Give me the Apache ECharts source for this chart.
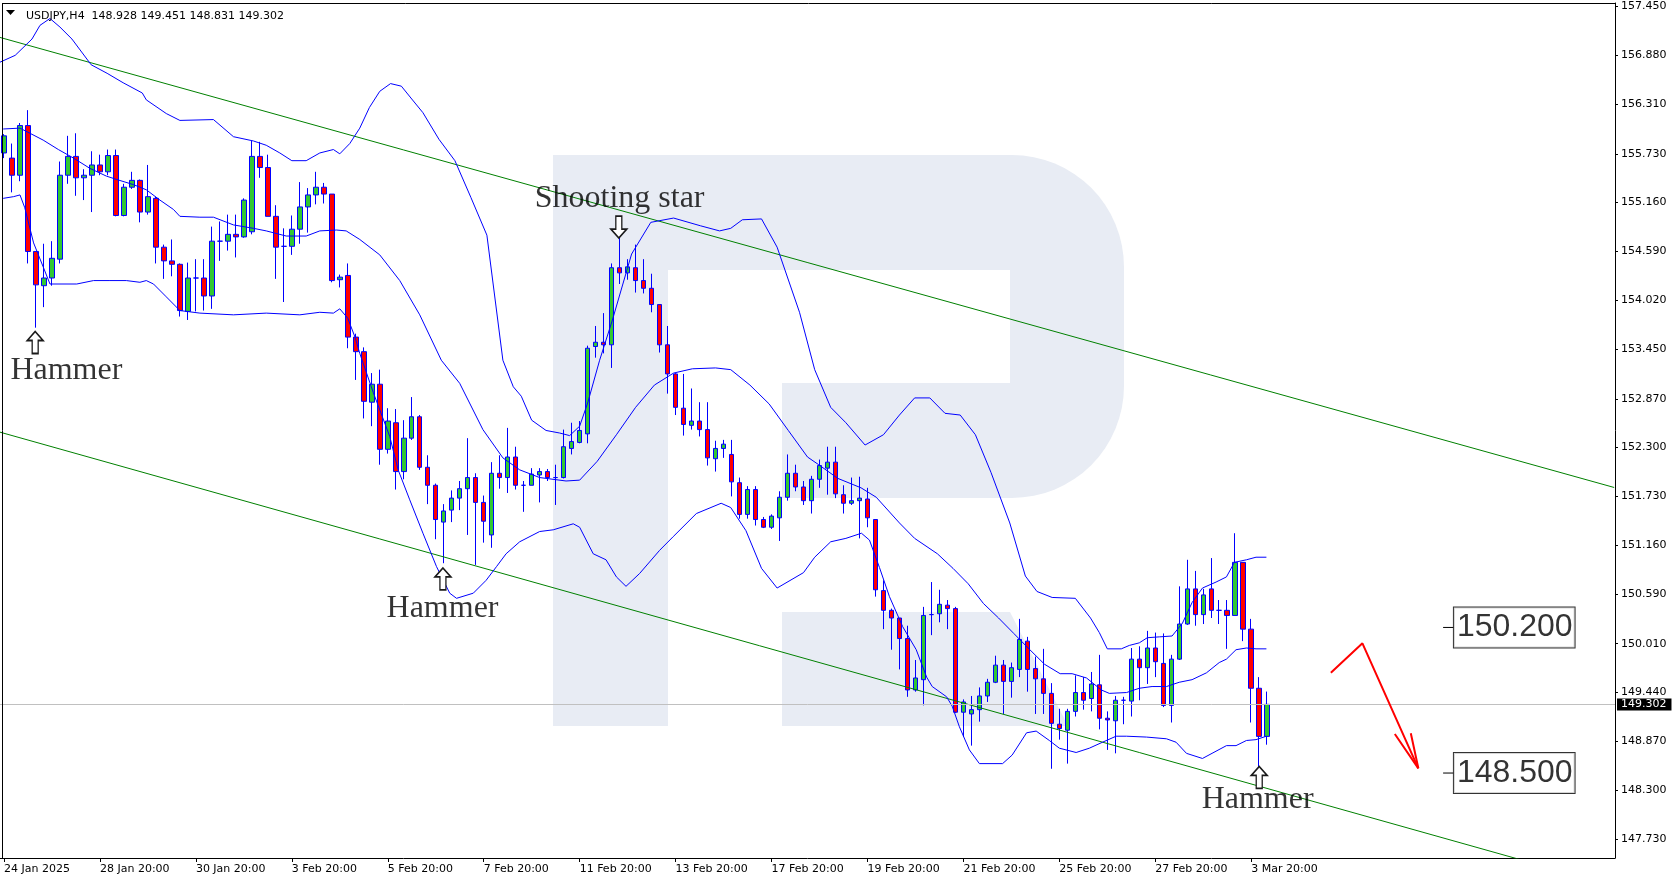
<!DOCTYPE html>
<html><head><meta charset="utf-8">
<script src="https://cdn.jsdelivr.net/npm/echarts@6/dist/echarts.min.js"></script>
<style>html,body{margin:0;padding:0;background:#fff;}#c{width:1679px;height:882px;}</style>
</head><body><div id="c"></div>
<script>
const SYMBOL = 'USDJPY,H4';
// candles: [open, high, low, close]
const OHLC = [
[155.74,155.96,155.68,155.94],[155.68,155.85,155.28,155.48],[155.48,156.09,155.41,156.06],[156.06,156.24,154.45,154.59],
[154.59,154.59,153.70,154.20],[154.19,154.68,153.94,154.28],[154.28,154.71,154.19,154.51],[154.50,155.64,154.45,155.48],
[155.48,155.94,155.38,155.70],[155.70,155.97,155.24,155.45],[155.45,155.55,155.19,155.48],[155.48,155.76,155.05,155.60],
[155.60,155.72,155.48,155.52],[155.52,155.78,155.48,155.71],[155.71,155.78,155.00,155.01],[155.01,155.38,155.00,155.34],
[155.34,155.52,155.32,155.42],[155.42,155.43,154.93,155.05],[155.05,155.60,155.02,155.23],[155.21,155.23,154.45,154.64],
[154.64,154.67,154.27,154.48],[154.48,154.73,154.30,154.44],[154.44,154.45,153.83,153.90],[153.89,154.46,153.79,154.28],
[154.28,154.50,153.89,154.28],[154.28,154.50,153.90,154.07],[154.07,154.88,153.92,154.71],[154.71,154.94,154.48,154.71],
[154.71,155.02,154.60,154.79],[154.79,155.02,154.52,154.76],[154.76,155.21,154.75,155.19],[154.82,155.88,154.79,155.70],
[155.70,155.87,155.45,155.57],[155.57,155.72,155.00,155.00],[155.00,155.13,154.27,154.64],[154.65,154.86,154.00,154.65],
[154.65,155.01,154.55,154.85],[154.85,155.40,154.68,155.11],[155.11,155.33,154.81,155.25],[155.25,155.52,155.14,155.34],
[155.34,155.39,155.15,155.26],[155.26,155.26,154.23,154.25],[154.26,154.32,154.17,154.29],[154.31,154.45,153.46,153.59],
[153.59,153.63,153.09,153.42],[153.42,153.47,152.64,152.84],[152.83,153.17,152.55,153.04],[153.04,153.21,152.10,152.28],
[152.28,152.76,152.23,152.61],[152.59,152.75,151.81,152.02],[152.02,152.62,151.93,152.41],[152.41,152.89,152.39,152.66],
[152.66,152.68,152.04,152.07],[152.07,152.21,151.64,151.86],[151.86,151.88,151.23,151.46],[151.43,151.64,150.95,151.56],
[151.57,151.80,151.43,151.71],[151.71,151.91,151.57,151.82],[151.82,152.41,151.28,151.95],[151.95,152.00,150.93,151.66],
[151.66,151.74,151.19,151.44],[151.28,152.13,151.13,152.00],[152.00,152.21,151.82,151.95],[151.95,152.53,151.77,152.19],
[152.19,152.31,151.81,151.86],[151.86,151.91,151.55,151.86],[151.86,152.06,151.86,151.99],[151.98,152.06,151.66,152.02],
[152.02,152.05,151.91,151.95],[151.95,152.10,151.63,151.95],[151.95,152.51,151.94,152.31],[152.29,152.59,152.22,152.37],
[152.36,152.61,152.35,152.50],[152.46,153.49,152.35,153.46],[153.48,153.72,153.35,153.53],[153.53,153.87,153.40,153.50],
[153.50,154.45,153.23,154.40],[154.40,154.75,154.21,154.34],[154.34,154.50,154.26,154.41],[154.40,154.67,154.11,154.25],
[154.25,154.50,154.10,154.16],[154.16,154.33,153.88,153.97],[153.97,153.97,153.41,153.50],[153.50,153.72,152.93,153.16],
[153.16,153.17,152.68,152.77],[152.76,153.16,152.44,152.57],[152.56,152.99,152.51,152.61],[152.61,152.83,152.43,152.51],
[152.51,152.83,152.09,152.18],[152.17,152.38,152.02,152.29],[152.29,152.39,152.18,152.34],[152.22,152.39,151.73,151.90],
[151.89,151.95,151.47,151.52],[151.52,151.85,151.47,151.81],[151.81,151.85,151.39,151.46],[151.46,151.49,151.36,151.37],
[151.37,151.52,151.35,151.50],[151.48,151.79,151.21,151.72],[151.72,152.22,151.68,152.00],[152.00,152.10,151.79,151.84],
[151.84,151.91,151.63,151.68],[151.68,151.97,151.53,151.93],[151.93,152.16,151.83,152.09],[152.06,152.31,151.75,152.13],
[152.13,152.31,151.71,151.76],[151.75,151.86,151.53,151.65],[151.65,151.95,151.63,151.68],[151.68,151.96,151.24,151.71],
[151.70,151.83,151.37,151.48],[151.46,151.46,150.56,150.64],[150.63,150.75,150.18,150.40],[150.40,150.42,149.94,150.31],
[150.31,150.31,149.71,150.07],[150.07,150.22,149.39,149.47],[149.47,149.82,149.45,149.61],[149.59,150.44,149.29,150.34],
[150.35,150.73,150.11,150.35],[150.36,150.64,150.26,150.47],[150.46,150.52,150.18,150.42],[150.42,150.44,149.20,149.21],
[149.21,149.36,148.92,149.33],[149.19,149.40,148.82,149.24],[149.24,149.50,149.10,149.40],[149.40,149.60,149.33,149.56],
[149.56,149.87,149.55,149.76],[149.76,149.82,149.19,149.57],[149.57,149.79,149.38,149.73],[149.71,150.30,149.62,150.06],
[150.04,150.09,149.45,149.71],[149.72,149.86,149.19,149.60],[149.60,149.95,149.19,149.43],[149.43,149.55,148.55,149.08],
[149.07,149.25,148.89,149.02],[149.00,149.25,148.61,149.22],[149.22,149.64,149.16,149.44],[149.44,149.62,149.24,149.35],
[149.37,149.68,149.22,149.54],[149.53,149.88,149.01,149.14],[149.14,149.22,148.77,149.12],[149.11,149.40,148.73,149.35],
[149.35,149.39,149.07,149.35],[149.34,149.96,149.16,149.83],[149.83,149.98,149.35,149.73],[149.73,150.16,149.54,149.96],
[149.96,150.14,149.62,149.80],[149.78,150.13,149.27,149.29],[149.29,149.88,149.09,149.83],[149.83,150.68,149.82,150.24],
[150.24,150.99,150.23,150.65],[150.65,150.86,150.22,150.35],[150.35,150.65,150.24,150.58],[150.65,151.01,150.31,150.40],
[150.40,150.52,150.24,150.40],[150.40,150.52,149.95,150.34],[150.34,151.30,150.34,150.96],[150.96,150.96,150.04,150.18],
[150.18,150.30,149.09,149.49],[149.49,149.62,148.57,148.928],[148.928,149.451,148.831,149.302]
];
const SLOT_COUNT = 202; // bar slots on the time axis (candles + empty future space)
const X_TICK_INDEX = [0,12,24,36,48,60,72,84,96,108,120,132,144,156];
const X_TICK_LABELS = ['24 Jan 2025','28 Jan 20:00','30 Jan 20:00','3 Feb 20:00','5 Feb 20:00','7 Feb 20:00','11 Feb 20:00','13 Feb 20:00','17 Feb 20:00','19 Feb 20:00','21 Feb 20:00','25 Feb 20:00','27 Feb 20:00','3 Mar 20:00'];
const Y_TICK_VALUES = [147.73,148.30,148.87,149.44,150.01,150.59,151.16,151.73,152.30,152.87,153.45,154.02,154.59,155.16,155.73,156.31,156.88,157.45];
const Y_MIN = 147.508, Y_MAX = 157.491;
// Bollinger bands, read as [bar position, price]
const UPPER_BAND = [[-0.5,156.80],[1.4,156.88],[3.5,157.07],[4.5,157.23],[5.75,157.31],[7,157.21],[8.5,157.07],[10.9,156.77],[12.9,156.67],[14.9,156.56],[17.3,156.44],[17.8,156.36],[20.3,156.20],[22,156.12],[26.2,156.13],[28.7,155.93],[31.2,155.88],[32.8,155.83],[34.5,155.74],[36,155.65],[37.8,155.65],[39.5,155.74],[41.2,155.78],[42,155.73],[43.25,155.85],[44.5,156.03],[45.7,156.27],[47,156.46],[48.35,156.55],[49.7,156.52],[51,156.37],[52.4,156.21],[54.4,155.90],[56.4,155.65],[58.4,155.22],[60.4,154.78],[62.4,153.32],[63.7,153.01],[64.7,152.90],[66,152.62],[67.8,152.50],[69.5,152.47],[70.75,152.44],[72,152.55],[73,152.82],[74.5,153.32],[76.1,153.79],[78.5,154.56],[80.9,154.93],[83.75,154.98],[87.1,154.89],[89.5,154.83],[90.9,154.86],[92.35,154.96],[94.75,154.97],[96.7,154.64],[99.5,153.88],[101.4,153.21],[103.4,152.77],[105.3,152.59],[107.7,152.33],[110,152.45],[112,152.68],[113.9,152.88],[115.8,152.88],[117.7,152.70],[119.6,152.68],[121.5,152.45],[123.45,152.01],[125.8,151.42],[127.75,150.80],[129.2,150.62],[131.1,150.55],[134,150.54],[135.9,150.31],[137,150.14],[138,149.95],[139.75,149.95],[140.75,149.99],[142,150.02],[143,150.08],[144.5,150.09],[146.1,150.10],[147.4,150.25],[148.6,150.49],[149.9,150.66],[151.6,150.73],[152.9,150.79],[153.9,150.96],[155.4,150.99],[156.6,151.02],[157.9,151.02]];
const MIDDLE_BAND = [[-0.1,156.02],[2,156.03],[3.25,155.97],[4.9,155.89],[6.8,155.78],[8.7,155.68],[10.75,155.56],[12.8,155.47],[14.1,155.43],[16.2,155.37],[17.8,155.31],[19.5,155.19],[21.2,155.08],[22,155.00],[24.5,154.99],[26.2,154.99],[28.7,154.90],[31.2,154.86],[32.8,154.83],[35.3,154.77],[37.8,154.77],[39.5,154.83],[41.6,154.84],[42.8,154.83],[44.5,154.73],[47,154.55],[49.5,154.25],[52,153.85],[54.7,153.32],[57,153.05],[59.9,152.51],[62.4,152.18],[64.5,152.04],[67,151.95],[70.3,151.91],[72,151.92],[74.2,152.14],[76.6,152.45],[79,152.77],[81.35,153.03],[83.75,153.17],[86.1,153.22],[89,153.23],[90.9,153.21],[93.3,153.03],[95.7,152.81],[98.1,152.50],[100.5,152.19],[101.9,152.10],[104.3,151.94],[107.2,151.83],[109.1,151.72],[112,151.42],[113.9,151.24],[116.75,151.06],[118.7,150.89],[120.6,150.71],[122.5,150.48],[124.4,150.31],[126.3,150.13],[128.2,149.95],[130.15,149.77],[132.1,149.66],[133.6,149.66],[135.4,149.61],[137.25,149.47],[138.25,149.43],[140.4,149.44],[142,149.49],[143.6,149.51],[145.4,149.51],[147,149.56],[148.6,149.59],[150.4,149.67],[152,149.79],[152.9,149.83],[154.1,149.94],[155.4,149.96],[156.6,149.95],[157.9,149.95]];
const LOWER_BAND = [[-0.1,155.21],[1.2,155.23],[2,155.25],[2.6,155.10],[3.7,154.69],[4.9,154.41],[5.75,154.21],[9.1,154.21],[11.2,154.25],[13.25,154.25],[15.3,154.25],[17,154.23],[17.8,154.25],[18.7,154.21],[20.3,154.06],[22,153.90],[24.5,153.87],[28.7,153.85],[32.8,153.87],[37,153.85],[39.5,153.88],[41.2,153.87],[42,153.92],[43,153.81],[43.9,153.59],[44.5,153.40],[46.2,152.94],[48.25,152.43],[49.3,152.04],[50.75,151.69],[52.4,151.30],[54.1,150.91],[55.75,150.60],[56.6,150.54],[58.7,150.60],[60.3,150.75],[61.6,150.91],[62.8,151.06],[64.5,151.20],[67,151.32],[68.7,151.34],[71.2,151.41],[72,151.37],[73.7,151.06],[75.3,150.99],[76.6,150.79],[77.8,150.68],[79.5,150.83],[82,151.10],[83.7,151.26],[86.6,151.53],[89.7,151.65],[90.9,151.60],[92.8,151.33],[94.75,150.89],[96.7,150.66],[100,150.84],[101.4,151.02],[103.4,151.20],[105.3,151.24],[107.25,151.30],[108.25,151.22],[109.5,150.90],[110.75,150.56],[112.4,150.21],[114.1,149.94],[115.4,149.62],[116.1,149.51],[117.9,149.39],[118.6,149.28],[119.5,149.04],[120.75,148.77],[122,148.61],[124.9,148.61],[126.1,148.71],[127.9,148.97],[129.1,148.99],[130.75,148.88],[132,148.79],[134.1,148.74],[135.75,148.79],[137.4,148.86],[139.1,148.93],[140.4,148.93],[142.9,148.92],[145.4,148.90],[146.6,148.86],[147.9,148.73],[149.9,148.67],[151.1,148.73],[152.9,148.82],[154.1,148.82],[155.4,148.88],[156.6,148.89],[157.9,148.93]];
// trend channel
const CHANNEL_UPPER = [[-0.5,157.089],[201.4,151.834]];
const CHANNEL_LOWER = [[-0.5,152.480],[189.5,147.493]];
// candlestick pattern marks
const UP_ARROWS = [[3.9,153.527],[54.9,150.766],[157,148.448]];
const DOWN_ARROWS = [[76.9,154.875]];
const PATTERN_NAMES = ['Hammer','Hammer','Shooting star','Hammer'];
const PATTERN_ANCHORS = [[7.8,153.194],[54.85,150.419],[77,155.213],[156.8,148.194]];
// forecast levels & arrow
const LEVELS = [150.200, 148.500];
const LEVEL_FROM = 180, LEVEL_TO = 181.29;
const FORECAST = [[165.96,149.672],[169.91,150.015],[176.9,148.555]];
const FORECAST_HEAD = [[173.96,148.956],[176.9,148.555],[175.96,148.964]];

const last = OHLC[OHLC.length - 1];
const categories = Array.from({length: SLOT_COUNT}, (_, i) => String(i));
const candleData = OHLC.map(r => [r[0], r[3], r[2], r[1]]);
const showTick = (i) => X_TICK_INDEX.indexOf(i) >= 0;
const ARROW_UP = 'path://M8 0 L16 9 L11 9 L11 22 L5 22 L5 9 L0 9 Z';
const W = '#e8ecf4';

function lineSeries(data, color, width, z) {
  return {type: 'line', xAxisIndex: 1, yAxisIndex: 0, data, showSymbol: false, symbol: 'none', silent: true,
    lineStyle: {color, width}, z: z || 3, animation: false};
}

const levelTicks = [];
LEVELS.forEach((v, k) => { if (k) levelTicks.push(null); levelTicks.push([LEVEL_FROM, v], [LEVEL_TO, v]); });

const option = {
  animation: false,
  backgroundColor: '#ffffff',
  title: {text: `${SYMBOL}  ${last.map(v => v.toFixed(3)).join(' ')}`, left: 21, top: 6,
    textStyle: {fontSize: 11, fontWeight: 'normal', color: '#000', fontFamily: 'DejaVu Sans'}},
  graphic: [
    {type: 'rect', z: -10, silent: true, shape: {x: 553, y: 155, width: 115, height: 571}, style: {fill: W}},
    {type: 'rect', z: -10, silent: true, shape: {x: 668, y: 155, width: 456, height: 343, r: [0, 112, 112, 0]}, style: {fill: W}},
    {type: 'rect', z: -9, silent: true, shape: {x: 668, y: 270, width: 342, height: 113}, style: {fill: '#fff'}},
    {type: 'rect', z: -9, silent: true, shape: {x: 668, y: 383, width: 114, height: 116}, style: {fill: '#fff'}},
    {type: 'polygon', z: -10, silent: true, shape: {points: [[782, 612], [1010, 612], [1068, 726], [782, 726]]}, style: {fill: W}},
    {type: 'line', z: 50, silent: true, shape: {x1: 2.5, y1: 3, x2: 2.5, y2: 858}, style: {stroke: '#000', lineWidth: 1}},
    {type: 'line', z: 50, silent: true, shape: {x1: 2, y1: 3.5, x2: 1615, y2: 3.5}, style: {stroke: '#000', lineWidth: 1}},
    {type: 'polygon', z: 50, silent: true, shape: {points: [[6, 10], [15, 10], [10.5, 15]]}, style: {fill: '#000'}}
  ],
  grid: {left: 0, right: 64, top: 3, bottom: 24, show: false},
  xAxis: [
    {type: 'category', data: categories, boundaryGap: true,
      axisLine: {show: true, onZero: false, lineStyle: {color: '#000', width: 1}},
      axisTick: {show: true, alignWithLabel: true, interval: showTick, length: 4, lineStyle: {color: '#000'}},
      axisLabel: {interval: showTick, formatter: (v, i) => X_TICK_LABELS[X_TICK_INDEX.indexOf(i)] || '',
        align: 'left', margin: 6, color: '#000', fontSize: 11, fontFamily: 'DejaVu Sans'},
      splitLine: {show: false}},
    {type: 'value', min: -0.5, max: SLOT_COUNT - 0.5, show: false, splitLine: {show: false},
      axisLine: {onZero: false}}
  ],
  yAxis: [{type: 'value', position: 'right', min: Y_MIN, max: Y_MAX, splitLine: {show: false},
    axisLine: {show: true, onZero: false, lineStyle: {color: '#000'}},
    axisTick: {show: true, length: 3, customValues: Y_TICK_VALUES, lineStyle: {color: '#000'}},
    axisLabel: {customValues: Y_TICK_VALUES, formatter: v => v.toFixed(3),
      color: '#000', fontSize: 11, margin: 6, fontFamily: 'DejaVu Sans'}}],
  series: [
    {type: 'candlestick', xAxisIndex: 0, yAxisIndex: 0, data: candleData, barWidth: 5, z: 2,
      itemStyle: {color: '#32c832', color0: '#ff0000', borderColor: '#0000ff', borderColor0: '#0000ff',
        borderColorDoji: '#0000ff', borderWidth: 1},
      markLine: {silent: true, symbol: 'none', animation: false,
        data: [{yAxis: last[3]}],
        lineStyle: {color: '#c0c0c0', type: 'solid', width: 1},
        label: {show: true, position: 'end', distance: 2, formatter: () => last[3].toFixed(3),
          color: '#fff', backgroundColor: '#000', fontSize: 11, fontFamily: 'DejaVu Sans',
          lineHeight: 12, padding: [0, 5, 0, 4]}}},
    lineSeries(CHANNEL_UPPER, '#008000', 1, 3),
    lineSeries(CHANNEL_LOWER, '#008000', 1, 3),
    lineSeries(UPPER_BAND, '#0000ff', 1, 4),
    lineSeries(MIDDLE_BAND, '#0000ff', 1, 4),
    lineSeries(LOWER_BAND, '#0000ff', 1, 4),
    {type: 'scatter', xAxisIndex: 1, yAxisIndex: 0, data: UP_ARROWS, symbol: ARROW_UP, symbolSize: [16, 22], z: 6, silent: true,
      itemStyle: {color: '#fff', borderColor: '#1a1a1a', borderWidth: 1.5, opacity: 1}},
    {type: 'scatter', xAxisIndex: 1, yAxisIndex: 0, data: DOWN_ARROWS, symbol: ARROW_UP, symbolRotate: 180, symbolSize: [16, 22], z: 6, silent: true,
      itemStyle: {color: '#fff', borderColor: '#1a1a1a', borderWidth: 1.5, opacity: 1}},
    {type: 'scatter', xAxisIndex: 1, yAxisIndex: 0, z: 7, silent: true, symbolSize: 1,
      data: PATTERN_ANCHORS.map((p, k) => ({value: p, name: PATTERN_NAMES[k]})),
      itemStyle: {color: 'rgba(0,0,0,0)'},
      label: {show: true, position: 'inside', formatter: '{b}', color: '#000', fontSize: 32,
        fontFamily: 'Liberation Serif'}},
    lineSeries(levelTicks, '#000', 1, 6),
    {type: 'scatter', xAxisIndex: 1, yAxisIndex: 0, z: 7, silent: true, symbolSize: 1,
      data: LEVELS.map(v => [LEVEL_TO, v]),
      itemStyle: {color: 'rgba(0,0,0,0)'},
      label: {show: true, position: 'right', distance: 0, formatter: p => p.value[1].toFixed(3),
        color: '#000', fontSize: 32, fontFamily: 'Liberation Sans', lineHeight: 36,
        backgroundColor: '#fff', borderColor: '#000', borderWidth: 1, padding: [2, 2, 2, 3]}},
    lineSeries(FORECAST, '#ff0000', 2, 6),
    lineSeries(FORECAST_HEAD, '#ff0000', 2, 6)
  ]
};
const chart = echarts.init(document.getElementById('c'), null, {renderer: 'canvas', width: 1679, height: 882});
chart.setOption(option);
</script></body></html>
